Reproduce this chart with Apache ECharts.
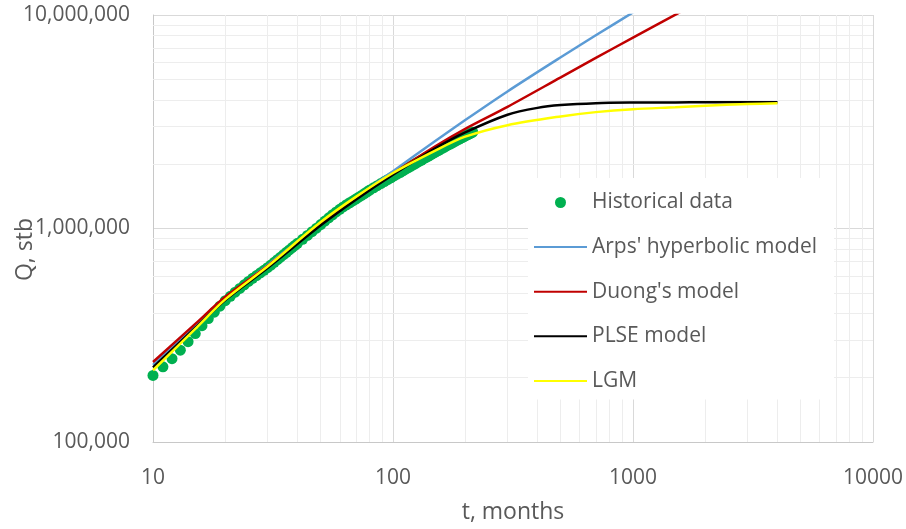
<!DOCTYPE html>
<html><head><meta charset="utf-8">
<script src="https://cdn.jsdelivr.net/npm/echarts@6/dist/echarts.min.js"></script>
<style>html,body{margin:0;padding:0;background:#fff}#c{width:906px;height:529px}</style>
</head><body><div id="c"></div>
<script>
// Historical data (t in months, cumulative Q in stb)
const histT = [10,11,12,13,14,15,16,17,18,19,20,
  21,22,23,24,25,26,27,28,29,30,31,32,33,34,35,36,37,38,39,40,
  42,44,46,48,50,52,54,56,58,60,62,64,66,68,70,72,74,76,78,80,
  83,86,89,92,95,98,101,104,107,110,113,116,119,122,125,128,131,134,137,140,
  143,146,149,152,155,158,161,164,167,170,173,176,179,182,185,188,191,194,197,200,
  203,206,209,212,215];
const histQ = [205100,224900,245500,269200,295100,322100,350800,378400,405500,432500,459200,
  481000,503000,524000,545000,565000,584000,602000,620000,637000,655000,674000,694000,714000,734000,754000,774000,794000,814000,833000,852000,
  890000,928000,966000,1004000,1043000,1083000,1122000,1160000,1196000,1230000,1262000,1292000,1320000,1347000,1373000,1401000,1429000,1457000,1485000,1514000,
  1551000,1587000,1623000,1658000,1693000,1728000,1762000,1796000,1829000,1862000,1895000,1928000,1960000,1992000,2024000,2056000,2087000,2117000,2148000,2178000,
  2208000,2237000,2267000,2295000,2324000,2352000,2380000,2408000,2435000,2462000,2488000,2514000,2540000,2566000,2592000,2617000,2641000,2665000,2689000,2713000,
  2736000,2759000,2782000,2804000,2827000];

// Arps' hyperbolic model
const arpsT = [10,15,20,30,50,70,100,150,200,300,500,700,1000,1100];
const arpsQ = [229600,348300,469900,673000,1059000,1396000,1854000,2570000,3221000,4385000,6339000,8035000,10280000,10965000];

// Duong's model
const duongT = [10,15,20,30,50,70,100,150,200,300,500,700,1000,1600];
const duongQ = [237100,357300,478600,668300,1059000,1380000,1811000,2427000,2931000,3715000,5105000,6295000,7834000,10423000];

// PLSE model
const plseT = [10,15,20,30,50,70,100,150,200,300,400,500,700,1000,1500,2000,3000,4000];
const plseQ = [223400,342800,462400,653100,1035000,1365000,1786000,2371000,2818000,3412000,3673000,3784000,3864000,3890000,3897000,3899000,3899000,3899000];

// LGM
const lgmT = [10,15,20,30,50,70,100,150,200,300,500,700,1000,1500,2000,3000,4000];
const lgmQ = [216800,338800,465600,663700,1072000,1406000,1820000,2317000,2692000,3048000,3350000,3508000,3622000,3698000,3758000,3828000,3864000];

// Axis ticks
const xTickLabels = [10, 100, 1000, 10000];
const yTickLabels = [100000, 1000000, 10000000];
const xMinor = [20,30,40,50,60,70,80,90,200,300,400,500,600,700,800,900,2000,3000,4000,5000,6000,7000,8000,9000];
const yMinor = [200000,300000,400000,500000,600000,700000,800000,900000,2000000,3000000,4000000,5000000,6000000,7000000,8000000,9000000];

const seriesNames = ['Historical data', "Arps' hyperbolic model", "Duong's model", 'PLSE model', 'LGM'];
const zip = (a, b) => a.map((v, i) => [v, b[i]]);
const FONT = 'Open Sans';
const TXT = '#595959';

const chart = echarts.init(document.getElementById('c'), null, {renderer: 'canvas'});
const lineSeries = (name, t, q, color) => ({
  name, type: 'line', data: zip(t, q), symbol: 'none', showSymbol: false,
  smooth: 0.3, lineStyle: {color, width: 2.5}, itemStyle: {color}, z: 3, clip: true
});
const lineLegend = name => ({name, itemStyle: {opacity: 0}});

chart.setOption({
  animation: false,
  backgroundColor: '#fff',
  textStyle: {fontFamily: FONT},
  grid: {left: 153, right: 33, top: 15, bottom: 86, containLabel: false},
  xAxis: {
    type: 'log', logBase: 10, min: xTickLabels[0], max: xTickLabels[xTickLabels.length - 1],
    name: 't, months', nameLocation: 'middle', nameGap: 59,
    nameTextStyle: {color: TXT, fontSize: 23, fontFamily: FONT},
    axisLine: {show: true, lineStyle: {color: '#c8c8c8', width: 1}},
    axisTick: {show: false},
    axisLabel: {color: TXT, fontSize: 21, fontFamily: FONT, margin: 26, formatter: v => String(v)},
    splitLine: {show: true, lineStyle: {color: '#d9d9d9', width: 1}}
  },
  yAxis: {
    type: 'log', logBase: 10, min: yTickLabels[0], max: yTickLabels[yTickLabels.length - 1],
    axisLine: {show: true, lineStyle: {color: '#c8c8c8', width: 1}},
    axisTick: {show: false},
    axisLabel: {color: TXT, fontSize: 21, fontFamily: FONT, margin: 23,
      formatter: v => Number(v).toLocaleString('en-US')},
    splitLine: {show: true, lineStyle: {color: '#d9d9d9', width: 1}}
  },
  legend: {
    orient: 'vertical', left: 528, top: 178,
    padding: [14, 17, 8, 5],
    backgroundColor: '#ffffff',
    itemWidth: 53, itemHeight: 11, itemGap: 23.6,
    textStyle: {color: TXT, fontSize: 21, fontFamily: FONT, lineHeight: 21},
    data: [{name: seriesNames[0], icon: 'circle'},
      lineLegend(seriesNames[1]), lineLegend(seriesNames[2]), lineLegend(seriesNames[3]), lineLegend(seriesNames[4])],
    z: 10
  },
  graphic: [{
    type: 'text', left: 14, top: 218, rotation: Math.PI / 2,
    style: {text: 'Q, stb', fill: TXT, font: '23px "' + FONT + '"'}
  }],
  series: [
    {
      name: 'minorGrid', type: 'line', data: [], silent: true, z: 0,
      markLine: {
        silent: true, z: 1, symbol: ['none', 'none'], label: {show: false}, animation: false,
        lineStyle: {color: '#ededed', width: 1, type: 'solid'},
        emphasis: {disabled: true},
        data: xMinor.map(v => ({xAxis: v})).concat(yMinor.map(v => ({yAxis: v})))
      }
    },
    {
      name: seriesNames[0], type: 'scatter', data: zip(histT, histQ),
      symbol: 'circle', symbolSize: 11, itemStyle: {color: '#00b050', opacity: 1}, z: 2
    },
    lineSeries(seriesNames[1], arpsT, arpsQ, '#5b9bd5'),
    lineSeries(seriesNames[2], duongT, duongQ, '#c00000'),
    lineSeries(seriesNames[3], plseT, plseQ, '#000000'),
    lineSeries(seriesNames[4], lgmT, lgmQ, '#ffff00')
  ]
});
</script></body></html>
